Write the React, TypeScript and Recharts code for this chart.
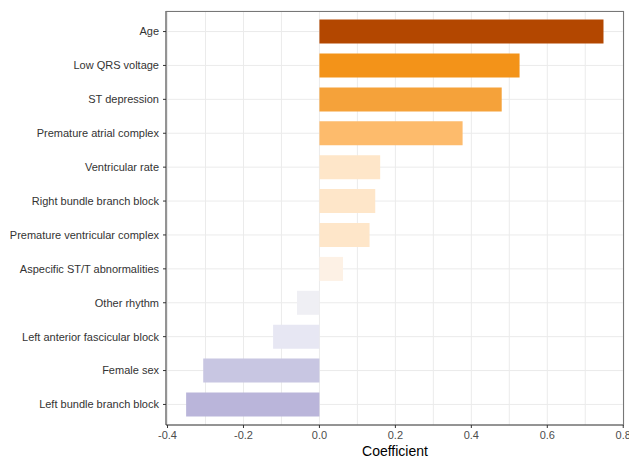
import { BarChart, Bar, XAxis, YAxis, CartesianGrid, Cell } from 'recharts';

const predictors = [
  'Age',
  'Low QRS voltage',
  'ST depression',
  'Premature atrial complex',
  'Ventricular rate',
  'Right bundle branch block',
  'Premature ventricular complex',
  'Aspecific ST/T abnormalities',
  'Other rhythm',
  'Left anterior fascicular block',
  'Female sex',
  'Left bundle branch block',
];

const coefficients = [0.748, 0.527, 0.48, 0.377, 0.16, 0.147, 0.132, 0.062, -0.059, -0.122, -0.306, -0.351];

// grid every 0.1, labels every 0.2
const gridTicks = [-0.4, -0.3, -0.2, -0.1, 0, 0.1, 0.2, 0.3, 0.4, 0.5, 0.6, 0.7, 0.8];
const labelledTicks = ['-0.4', '-0.2', '0.0', '0.2', '0.4', '0.6', '0.8'];

const barColors = [
  '#b34700',
  '#f39319',
  '#f5a23a',
  '#fdbb6c',
  '#fee6c9',
  '#fee6c9',
  '#fee6c9',
  '#fdf1e5',
  '#efeff4',
  '#e7e7f3',
  '#c8c6e2',
  '#bab5da',
];

const data = predictors.map((name, i) => ({ name, value: coefficients[i] }));

const font = '"Liberation Sans", Arial, sans-serif';

const YTick = (props: any) => {
  const { x, y, payload } = props;
  return (
    <text x={x} y={y} dy="0.355em" textAnchor="end" fontSize={11} fill="#333" fontFamily={font}>
      {payload.value}
    </text>
  );
};

const XTick = (props: any) => {
  const { x, y, payload } = props;
  const label = Number(payload.value).toFixed(1);
  if (!labelledTicks.includes(label)) return <g />;
  return (
    <g>
      <line x1={x} x2={x} y1={y - 6} y2={y - 3} stroke="#333" />
      <text x={x} y={y} dy="0.71em" textAnchor="middle" fontSize={11} fill="#4d4d4d" fontFamily={font}>
        {label}
      </text>
    </g>
  );
};

export default function App() {
  return (
    <div style={{ position: 'absolute', left: 0, top: 0, width: 629, height: 459, background: '#fff', fontFamily: font }}>
      <BarChart
        width={629}
        height={459}
        data={data}
        layout="vertical"
        margin={{ top: 11, right: 5, bottom: 0, left: 0 }}
      >
        <CartesianGrid stroke="#ebebeb" strokeWidth={1} />
        <XAxis
          type="number"
          dataKey="value"
          domain={[-0.404, 0.802]}
          allowDataOverflow
          ticks={gridTicks}
          interval={0}
          tick={<XTick />}
          tickSize={3}
          tickMargin={3}
          tickLine={false}
          axisLine={{ stroke: '#333' }}
          height={34}
          label={{ value: 'Coefficient', position: 'insideBottom', offset: 3, fontSize: 14, fill: '#000', fontFamily: font }}
        />
        <YAxis
          type="category"
          dataKey="name"
          width={166}
          padding={{ top: 3.6, bottom: 3.6 }}
          tick={<YTick />}
          tickSize={3}
          tickMargin={4}
          tickLine={{ stroke: '#333' }}
          axisLine={{ stroke: '#333' }}
          interval={0}
        />
        <Bar dataKey="value" barSize={24} isAnimationActive={false}>
          {data.map((d, i) => (
            <Cell key={d.name} fill={barColors[i]} />
          ))}
        </Bar>
      </BarChart>
      <div
        style={{
          position: 'absolute',
          left: 166,
          top: 11,
          width: 457,
          height: 413,
          borderTop: '1px solid #777',
          borderRight: '1px solid #777',
          pointerEvents: 'none',
        }}
      />
    </div>
  );
}
